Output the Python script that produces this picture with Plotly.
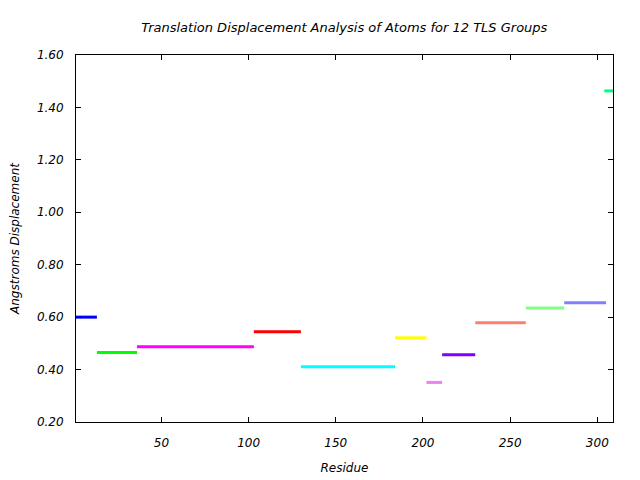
import plotly.graph_objects as go

# TLS group segments: residue start, residue end, displacement
seg_start = [1, 13, 36, 103, 130, 184, 202, 211, 230, 259, 281, 304]
seg_end = [13, 36, 103, 130, 184, 202, 211, 230, 259, 281, 305, 309]
displacement = [0.600, 0.465, 0.487, 0.544, 0.411, 0.521, 0.351, 0.457, 0.579, 0.635, 0.655, 1.463]
colors = ["#0000ff", "#00ff00", "#ff00ff", "#ff0000", "#00ffff", "#ffff00",
          "#ee82ee", "#7f00ff", "#fa8072", "#80ff80", "#8080ff", "#00ff7f"]
x_ticks = [50, 100, 150, 200, 250, 300]
y_ticks = [0.2, 0.4, 0.6, 0.8, 1.0, 1.2, 1.4, 1.6]

fig = go.Figure()
for s, e, d, c in zip(seg_start, seg_end, displacement, colors):
    fig.add_trace(go.Scatter(x=[s, e], y=[d, d], mode="lines",
                             line=dict(color=c, width=3), showlegend=False,
                             hoverinfo="skip"))

font_family = "DejaVu Sans"
fig.update_layout(
    width=640, height=480,
    margin=dict(l=76, r=27, t=55, b=58),
    paper_bgcolor="white", plot_bgcolor="white",
    title=dict(text="Translation Displacement Analysis of Atoms for 12 TLS Groups",
               x=0.538, xanchor="center", y=0.943, yanchor="middle",
               font=dict(family=font_family, size=13, color="black", style="italic")),
    xaxis=dict(range=[1, 309], tickvals=x_ticks, ticktext=[str(v) for v in x_ticks],
               ticks="inside", ticklen=5, tickcolor="black", mirror="ticks",
               showline=True, linecolor="black", linewidth=1, showgrid=False, zeroline=False,
               ticklabelstandoff=10, automargin=False,
               tickfont=dict(family=font_family, size=12, color="black", style="italic"),
               title=dict(text="Residue", standoff=14,
                          font=dict(family=font_family, size=12, color="black", style="italic"))),
    yaxis=dict(range=[0.2, 1.6], tickvals=y_ticks, ticktext=[f"{v:.2f}" for v in y_ticks],
               ticks="inside", ticklen=5, tickcolor="black", mirror="ticks",
               showline=True, linecolor="black", linewidth=1, showgrid=False, zeroline=False,
               ticklabelstandoff=9, automargin=False,
               tickfont=dict(family=font_family, size=12, color="black", style="italic"),
               title=dict(text="Angstroms Displacement", standoff=14,
                          font=dict(family=font_family, size=12, color="black", style="italic"))),
)

fig.write_html("out.html")
